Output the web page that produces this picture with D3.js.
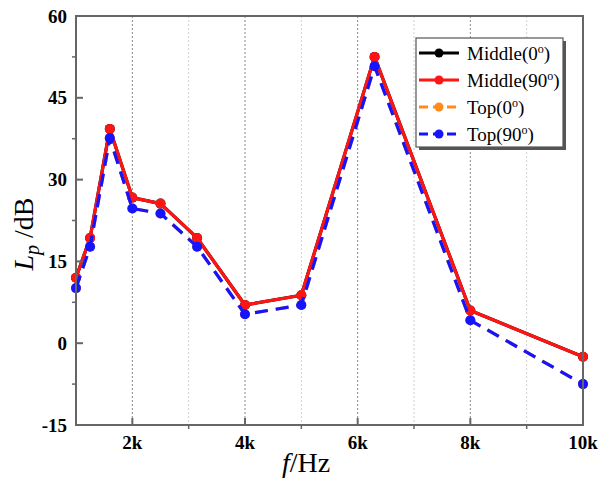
<!DOCTYPE html>
<html><head><meta charset="utf-8">
<script src="https://cdn.jsdelivr.net/npm/d3@7"></script>
<style>body{margin:0;background:#fff}svg{display:block}</style>
</head><body>
<svg id="c" width="600" height="480"></svg>
<script>
const freqs = [1000,1250,1600,2000,2500,3150,4000,5000,6300,8000,10000];
const middle0  = [12.0,19.3,39.3,26.7,25.6,19.3,7.0,8.8,52.5,6.0,-2.5];
const middle90 = [12.0,19.3,39.3,26.7,25.6,19.3,7.0,8.8,52.5,6.0,-2.5];
const top0     = [10.1,17.7,37.6,24.7,23.8,17.7,5.3,7.0,50.8,4.2,-7.5];
const top90    = [10.1,17.7,37.6,24.7,23.8,17.7,5.3,7.0,50.8,4.2,-7.5];
const seriesNames = ["Middle(0","Middle(90","Top(0","Top(90"];
const xTicks = [2000,4000,6000,8000,10000];
const xTickLabels = ["2k","4k","6k","8k","10k"];
const xMinor = [3000,5000,7000,9000];
const yTicks = [-15,0,15,30,45,60];
const yMinor = [-7.5,7.5,22.5,37.5,52.5];

const svg = d3.select("#c");
const L=76,R=583,T=16,B=425;
const x = d3.scaleLinear().domain([1000,10000]).range([L,R]);
const y = d3.scaleLinear().domain([-15,60]).range([B,T]);
const serif = "Liberation Serif, DejaVu Serif, serif";

// grid
svg.append("g").selectAll("line").data(xMinor).join("line")
  .attr("x1",d=>x(d)).attr("x2",d=>x(d)).attr("y1",T).attr("y2",B)
  .attr("stroke","#d0d0d0").attr("stroke-width",1).attr("stroke-dasharray","2,2");
svg.append("g").selectAll("line").data(xTicks.slice(0,-1)).join("line")
  .attr("x1",d=>x(d)).attr("x2",d=>x(d)).attr("y1",T).attr("y2",B)
  .attr("stroke","#888").attr("stroke-width",1).attr("stroke-dasharray","2,2");

// series
const series = [
  {vals:middle0,color:"#000",dash:null},
  {vals:top0,color:"#ff8c1a",dash:"13,8"},
  {vals:middle90,color:"#ff1414",dash:null},
  {vals:top90,color:"#1414ff",dash:"13,8"}
];
const line = d3.line().x((d,i)=>x(freqs[i])).y(d=>y(d));
series.forEach(s=>{
  const g = svg.append("g");
  g.append("path").datum(s.vals).attr("d",line).attr("fill","none")
    .attr("stroke",s.color).attr("stroke-width",3.2)
    .attr("stroke-dasharray",s.dash).attr("stroke-linejoin","round");
  g.selectAll("circle").data(s.vals).join("circle")
    .attr("cx",(d,i)=>x(freqs[i])).attr("cy",d=>y(d)).attr("r",5).attr("fill",s.color);
});

// axes box
svg.append("rect").attr("x",L).attr("y",T).attr("width",R-L).attr("height",B-T)
  .attr("fill","none").attr("stroke","#666").attr("stroke-width",2);

// y ticks
const ya = svg.append("g");
ya.selectAll("line.maj").data(yTicks).join("line").attr("class","maj")
  .attr("x1",L).attr("x2",L+7).attr("y1",d=>y(d)).attr("y2",d=>y(d))
  .attr("stroke","#666").attr("stroke-width",2);
ya.selectAll("line.min").data(yMinor).join("line").attr("class","min")
  .attr("x1",L-4).attr("x2",L).attr("y1",d=>y(d)).attr("y2",d=>y(d))
  .attr("stroke","#666").attr("stroke-width",1.5);
ya.selectAll("text").data(yTicks).join("text")
  .attr("x",L-9).attr("y",d=>y(d)).attr("dy","0.35em").attr("text-anchor","end")
  .attr("font-family",serif).attr("font-weight","bold").attr("font-size",19)
  .text(d=>d);

// x ticks
const xa = svg.append("g");
xa.selectAll("line.maj").data(xTicks).join("line").attr("class","maj")
  .attr("x1",d=>x(d)).attr("x2",d=>x(d)).attr("y1",B).attr("y2",B-7)
  .attr("stroke","#666").attr("stroke-width",2);
xa.selectAll("line.min").data(xMinor).join("line").attr("class","min")
  .attr("x1",d=>x(d)).attr("x2",d=>x(d)).attr("y1",B).attr("y2",B+4)
  .attr("stroke","#666").attr("stroke-width",1.5);
xa.selectAll("text").data(xTicks).join("text")
  .attr("x",d=>x(d)).attr("y",449).attr("text-anchor","middle")
  .attr("font-family",serif).attr("font-weight","bold").attr("font-size",19)
  .text((d,i)=>xTickLabels[i]);

// axis titles
const xt = svg.append("text").attr("x",306).attr("y",472).attr("text-anchor","middle")
  .attr("font-family",serif).attr("font-size",28);
xt.append("tspan").attr("font-style","italic").text("f");
xt.append("tspan").text("/Hz");

const yt = svg.append("text").attr("transform","translate(33,234) rotate(-90)")
  .attr("text-anchor","middle").attr("font-family",serif).attr("font-size",28);
yt.append("tspan").attr("font-style","italic").text("L");
yt.append("tspan").attr("font-style","italic").attr("font-size",20).attr("dy",6).text("p");
yt.append("tspan").attr("dy",-6).text(" /dB");

// legend
const lx=416, ly=38, lw=147, lh=109;
svg.append("rect").attr("x",lx+3).attr("y",ly+3).attr("width",lw).attr("height",lh).attr("fill","#555");
svg.append("rect").attr("x",lx).attr("y",ly).attr("width",lw).attr("height",lh)
  .attr("fill","#fff").attr("stroke","#555").attr("stroke-width",1.2);
const legendColors = ["#000","#ff1414","#ff8c1a","#1414ff"];
const legendDash = [null,null,"9,5","9,5"];
seriesNames.forEach((n,i)=>{
  const yy = ly+15+i*27;
  svg.append("line").attr("x1",lx+3).attr("x2",lx+43).attr("y1",yy).attr("y2",yy)
    .attr("stroke",legendColors[i]).attr("stroke-width",3).attr("stroke-dasharray",legendDash[i]);
  svg.append("circle").attr("cx",lx+23).attr("cy",yy).attr("r",4.5).attr("fill",legendColors[i]);
  const t = svg.append("text").attr("x",lx+51).attr("y",yy).attr("dy","0.35em")
    .attr("font-family",serif).attr("font-size",19);
  t.append("tspan").text(n);
  t.append("tspan").attr("font-size",12).attr("dy",-7).text("o");
  t.append("tspan").attr("dy",7).text(")");
});
</script>
</body></html>
